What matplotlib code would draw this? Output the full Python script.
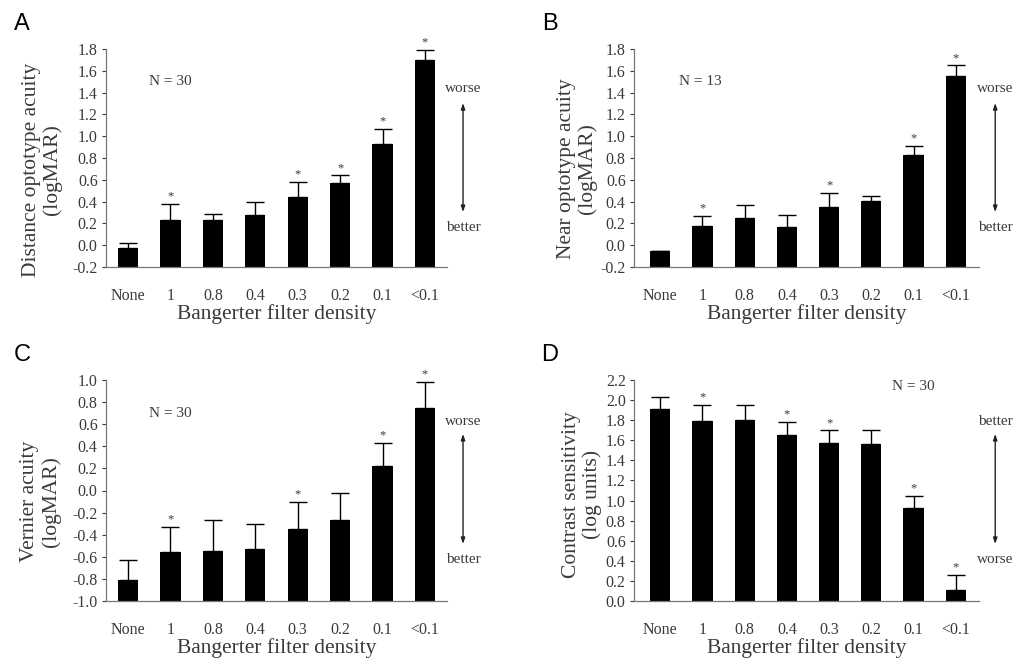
import numpy as np
import matplotlib
matplotlib.use("Agg")
import matplotlib.pyplot as plt

plt.rcParams['font.family'] = ['Liberation Serif', 'DejaVu Serif']
plt.rcParams['axes.unicode_minus'] = False

# filter densities on the x axis
densities = ["None", "1", "0.8", "0.4", "0.3", "0.2", "0.1", "<0.1"]

# A: distance optotype acuity (logMAR)
dist_mean = [-0.03, 0.23, 0.23, 0.28, 0.44, 0.57, 0.93, 1.70]
dist_err = [0.05, 0.15, 0.06, 0.12, 0.14, 0.07, 0.14, 0.09]
dist_sig = [False, True, False, False, True, True, True, True]

# B: near optotype acuity (logMAR)
near_mean = [-0.05, 0.18, 0.25, 0.17, 0.35, 0.41, 0.83, 1.55]
near_err = [0.0, 0.09, 0.12, 0.11, 0.13, 0.04, 0.08, 0.10]
near_sig = [False, True, False, False, True, False, True, True]

# C: vernier acuity (logMAR)
vern_mean = [-0.81, -0.56, -0.55, -0.53, -0.35, -0.27, 0.22, 0.75]
vern_err = [0.18, 0.23, 0.28, 0.23, 0.25, 0.25, 0.21, 0.23]
vern_sig = [False, True, False, False, True, False, True, True]

# D: contrast sensitivity (log units)
cs_mean = [1.91, 1.79, 1.80, 1.65, 1.57, 1.56, 0.93, 0.11]
cs_err = [0.12, 0.16, 0.15, 0.13, 0.13, 0.14, 0.12, 0.15]
cs_sig = [False, True, False, True, True, False, True, True]

gray = '#3a3a3a'
W, H = 1018, 663
fig = plt.figure(figsize=(W / 100, H / 100), dpi=100)


def panel(rect, letter, mean, err, sig, ylim, yticks, ylabel, label_xy, ntext, npos,
          top_word, bottom_word, ann_y, xlim):
    l, t, r, b = rect
    ax = fig.add_axes([l / W, 1 - b / H, (r - l) / W, (b - t) / H])
    x = np.arange(len(densities))
    ax.bar(x, np.array(mean) - ylim[0], bottom=ylim[0], width=0.48, color='black', zorder=2)
    ax.errorbar(x, mean, yerr=[np.zeros(len(err)), err], fmt='none', ecolor='black',
                elinewidth=1.0, capsize=6.5, capthick=1.0, zorder=3)
    for xi, m, e, s in zip(x, mean, err, sig):
        if s:
            ax.annotate('*', (xi, m + e), xytext=(0, 1), textcoords='offset points',
                        ha='center', va='bottom', fontsize=9, color=gray)
    ax.set_xlim(*xlim)
    ax.set_ylim(*ylim)
    ax.set_yticks(yticks)
    ax.set_yticklabels(['%.1f' % (round(v, 1) + 0.0) for v in yticks])
    ax.set_xticks(x)
    ax.set_xticklabels(densities)
    ax.tick_params(axis='x', length=0, pad=15, labelsize=11.5, colors=gray)
    ax.tick_params(axis='y', length=3, width=0.8, labelsize=11.5, colors=gray, pad=3)
    for s in ['top', 'right']:
        ax.spines[s].set_visible(False)
    for s in ['left', 'bottom']:
        ax.spines[s].set_color('#777777')
        ax.spines[s].set_linewidth(0.9)
    ax.set_xlabel('Bangerter filter density', fontsize=15.5, color=gray, labelpad=0)
    ax.set_ylabel(ylabel, fontsize=15.5, color=gray, linespacing=1.1)
    ax.yaxis.set_label_coords(*label_xy)
    ax.text(npos[0], npos[1], ntext, ha='center', va='center', fontsize=11, color=gray)
    ax.text(1.047, ann_y[0], top_word, transform=ax.transAxes, ha='center', va='center',
            fontsize=11, color=gray, clip_on=False)
    ax.text(1.047, ann_y[3], bottom_word, transform=ax.transAxes, ha='center', va='center',
            fontsize=11, color=gray, clip_on=False)
    ax.annotate('', xy=(1.047, ann_y[1]), xytext=(1.047, ann_y[2]), xycoords='axes fraction',
                textcoords='axes fraction', annotation_clip=False,
                arrowprops=dict(arrowstyle='<|-|>,head_length=0.35,head_width=0.12',
                                color='#222222', lw=1.0, shrinkA=0, shrinkB=0))
    fig.text((l - 84) / W, 1 - (t - 25) / H, letter, fontsize=17, family='Liberation Sans',
             ha='center', va='center', color='black')
    return ax


panel((106, 49, 447, 267), 'A', dist_mean, dist_err, dist_sig, (-0.2, 1.8),
      np.arange(-0.2, 1.81, 0.2), 'Distance optotype acuity\n(logMAR)', (-0.128, 0.445),
      'N = 30', (1.0, 1.5), 'worse', 'better', (0.817, 0.752, 0.252, 0.179), (-0.52, 7.52))
panel((634, 49, 979, 267), 'B', near_mean, near_err, near_sig, (-0.2, 1.8),
      np.arange(-0.2, 1.81, 0.2), 'Near optotype acuity\n(logMAR)', (-0.108, 0.45),
      'N = 13', (0.94, 1.5), 'worse', 'better', (0.817, 0.752, 0.252, 0.179), (-0.62, 7.55))
panel((106, 380, 447, 601), 'C', vern_mean, vern_err, vern_sig, (-1.0, 1.0),
      np.arange(-1.0, 1.01, 0.2), 'Vernier acuity\n(logMAR)', (-0.133, 0.45),
      'N = 30', (1.0, 0.7), 'worse', 'better', (0.814, 0.756, 0.258, 0.19), (-0.52, 7.52))
panel((634, 380, 979, 601), 'D', cs_mean, cs_err, cs_sig, (0.0, 2.2),
      np.arange(0.0, 2.21, 0.2), 'Contrast sensitivity\n(log units)', (-0.093, 0.48),
      'N = 30', (6.0, 2.14), 'better', 'worse', (0.814, 0.756, 0.258, 0.186), (-0.62, 7.55))

fig.savefig('out.png', dpi=100)
